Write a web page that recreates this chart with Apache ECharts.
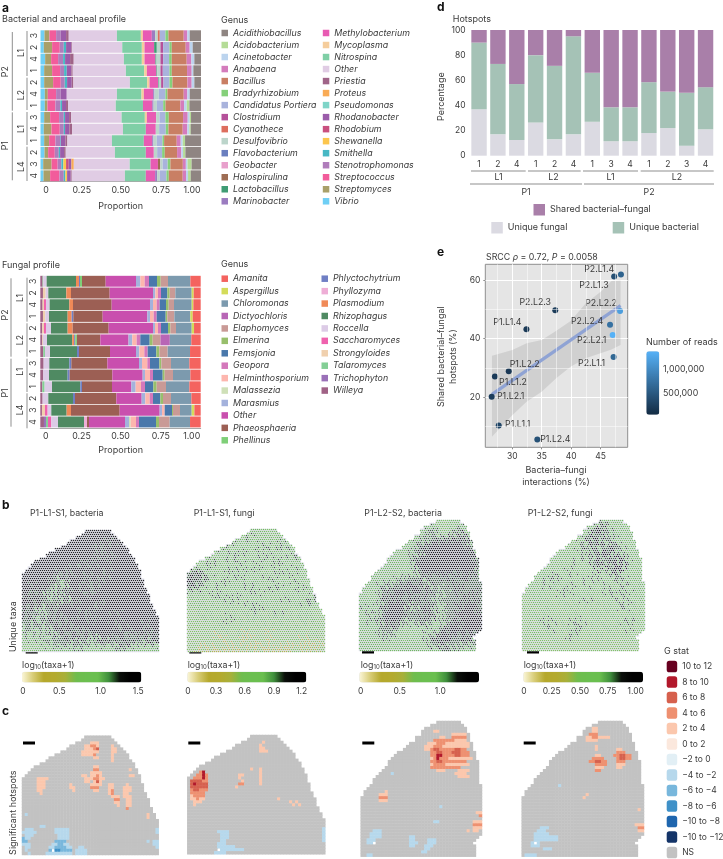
<!DOCTYPE html>
<html lang="en">
<head>
  <meta charset="UTF-8">
  <title>Hotspots</title>
  <style>
    html, body { margin: 0; padding: 0; background: #fff; }
    #chart { width: 723px; height: 859px; }
  </style>
</head>
<body>
  <div id="chart"></div>
  <script src="https://cdn.jsdelivr.net/npm/echarts@6/dist/echarts.min.js"></script>
  <script>
    // Panel a, bacterial profile. Stack runs left to right, legend order is the reverse
    const bacterialGenus = ["Vibrio", "Streptomyces", "Streptococcus", "Stenotrophomonas", "Smithella", "Shewanella", "Rhodobium", "Rhodanobacter", "Pseudomonas", "Proteus", "Priestia", "Other", "Nitrospina", "Mycoplasma", "Methylobacterium", "Marinobacter", "Lactobacillus", "Halospirulina", "Geobacter", "Flavobacterium", "Desulfovibrio", "Cyanothece", "Clostridium", "Candidatus Portiera", "Bradyrhizobium", "Bacillus", "Anabaena", "Acinetobacter", "Acidobacterium", "Acidithiobacillus"];
    const bacterialColors = ["#6fcff5", "#a9a069", "#f25c9b", "#b07dbb", "#47b8c4", "#fcc64d", "#c9507f", "#9b5caa", "#7fd5c8", "#f9ab55", "#a06488", "#e0cce4", "#7fcfa6", "#f5cd9c", "#e85bb3", "#9b7cc0", "#3f9c74", "#9e6d54", "#e8a0cc", "#6a7fbf", "#bcd5cb", "#dd6e5e", "#b5519a", "#a9b3dc", "#85d07a", "#c97f64", "#d47cbc", "#bcd4ee", "#b5dc97", "#8f8582"];
    const sampleTicks = ["3", "2", "4", "1", "2", "4", "1", "3", "4", "1", "2", "3", "4"];
    // parts of each bar, one row per sample, normalised below
    const bacterialParts = [
      [12, 15, 20, 14, 0, 0, 0, 16, 0, 0, 8, 145, 72, 6, 27, 10, 0, 0, 0, 0, 8, 6, 0, 17, 9, 46, 11, 7, 0, 34],
      [10, 25, 23, 12, 7, 0, 0, 16, 0, 0, 2, 151, 59, 8, 29, 0, 8, 0, 0, 0, 11, 0, 8, 19, 7, 42, 12, 9, 0, 25],
      [14, 18, 21, 15, 6, 0, 0, 15, 0, 0, 11, 151, 54, 8, 33, 0, 3, 0, 0, 0, 12, 0, 8, 18, 8, 45, 14, 9, 0, 20],
      [11, 24, 24, 12, 8, 0, 0, 14, 0, 0, 4, 160, 55, 8, 29, 0, 2, 0, 0, 0, 10, 0, 7, 20, 7, 46, 14, 5, 0, 23],
      [11, 27, 23, 12, 7, 0, 0, 14, 0, 0, 5, 170, 52, 7, 26, 0, 2, 0, 0, 0, 7, 0, 7, 18, 9, 45, 13, 8, 0, 20],
      [13, 9, 25, 14, 0, 0, 0, 18, 0, 0, 0, 151, 74, 7, 28, 4, 0, 0, 0, 0, 13, 0, 0, 20, 6, 49, 11, 7, 0, 34],
      [13, 8, 24, 15, 5, 0, 0, 12, 0, 0, 6, 144, 82, 0, 28, 4, 0, 0, 0, 0, 10, 0, 0, 19, 7, 45, 11, 8, 8, 35],
      [11, 18, 27, 14, 4, 0, 0, 12, 0, 0, 6, 152, 70, 6, 28, 0, 0, 0, 0, 0, 10, 0, 0, 18, 10, 43, 14, 6, 4, 30],
      [10, 23, 25, 12, 4, 0, 0, 13, 0, 0, 8, 153, 69, 0, 30, 0, 0, 0, 0, 0, 10, 0, 0, 20, 8, 43, 14, 6, 4, 31],
      [11, 15, 19, 14, 2, 0, 0, 14, 0, 0, 6, 134, 96, 0, 25, 4, 0, 0, 0, 0, 10, 0, 0, 17, 5, 38, 12, 6, 7, 48],
      [12, 11, 20, 12, 4, 0, 0, 12, 0, 0, 5, 148, 93, 0, 24, 0, 0, 0, 0, 0, 10, 0, 0, 15, 8, 37, 13, 5, 7, 47],
      [8, 25, 18, 11, 6, 8, 8, 8, 0, 7, 0, 166, 62, 0, 22, 0, 0, 7, 0, 0, 7, 0, 0, 15, 8, 37, 9, 5, 12, 28],
      [9, 20, 28, 13, 5, 5, 0, 11, 0, 0, 3, 160, 63, 0, 28, 6, 0, 0, 0, 0, 8, 0, 0, 20, 7, 42, 10, 6, 8, 31]
    ];

    // Panel a, fungal profile
    const fungalGenus = ["Willeya", "Trichophyton", "Talaromyces", "Strongyloides", "Saccharomyces", "Roccella", "Rhizophagus", "Plasmodium", "Phyllozyma", "Phlyctochytrium", "Phellinus", "Phaeosphaeria", "Other", "Marasmius", "Malassezia", "Helminthosporium", "Geopora", "Femsjonia", "Elmerina", "Elaphomyces", "Dictyochloris", "Chloromonas", "Aspergillus", "Amanita"];
    const fungalColors = ["#a06286", "#9a70b8", "#84cf96", "#f0d0ae", "#ef62ae", "#dccbe6", "#4f8a62", "#f08a58", "#eeaed6", "#6f7fc4", "#7fcf78", "#9c5f54", "#c94fae", "#a4b2dc", "#cfe0b8", "#fdb6ae", "#d478bb", "#4a78ab", "#98bf6c", "#c99a96", "#b866b6", "#7c9aae", "#d4dc5a", "#f4635f"];
    const fungalParts = [
      [7, 0, 2, 0, 0, 10, 88, 9, 0, 3, 6, 71, 91, 13, 0, 13, 13, 24, 11, 22, 0, 67, 0, 31],
      [8, 0, 0, 8, 0, 8, 54, 14, 0, 0, 0, 116, 130, 7, 0, 8, 9, 19, 7, 17, 0, 49, 6, 21],
      [7, 0, 0, 4, 6, 11, 59, 11, 0, 0, 0, 116, 115, 9, 0, 11, 9, 19, 8, 16, 0, 53, 5, 22],
      [8, 0, 0, 7, 0, 11, 56, 12, 0, 5, 0, 88, 134, 8, 0, 11, 9, 27, 5, 21, 0, 48, 7, 24],
      [6, 0, 0, 5, 6, 15, 50, 15, 0, 0, 0, 108, 133, 6, 0, 9, 9, 21, 7, 17, 0, 47, 7, 20],
      [6, 0, 0, 2, 0, 12, 75, 6, 0, 3, 5, 70, 84, 11, 0, 13, 11, 28, 9, 23, 28, 64, 0, 28],
      [9, 0, 5, 0, 0, 15, 81, 0, 0, 6, 0, 93, 78, 10, 0, 15, 10, 26, 9, 25, 0, 67, 0, 32],
      [10, 0, 0, 0, 0, 17, 60, 0, 0, 6, 0, 108, 95, 9, 0, 16, 8, 28, 6, 29, 0, 55, 0, 34],
      [9, 0, 0, 0, 0, 17, 56, 0, 0, 6, 0, 128, 91, 7, 0, 15, 9, 29, 6, 25, 0, 52, 0, 31],
      [6, 0, 7, 0, 0, 22, 85, 0, 0, 5, 0, 90, 58, 13, 0, 16, 12, 25, 10, 28, 0, 70, 0, 34],
      [7, 0, 0, 0, 0, 17, 74, 0, 0, 6, 0, 124, 76, 11, 0, 13, 10, 22, 8, 24, 0, 61, 0, 28],
      [5, 0, 0, 9, 8, 11, 46, 13, 0, 0, 0, 146, 120, 7, 0, 8, 0, 22, 3, 21, 0, 35, 8, 19],
      [11, 6, 6, 0, 10, 20, 78, 0, 9, 0, 0, 6, 108, 12, 5, 16, 9, 51, 9, 32, 0, 61, 0, 32]
    ];
    const proportionLabels = ["0", "0.25", "0.50", "0.75", "1.00"];
    // where those labels sit: the end ones are pulled in over the bars in the figure
    const proportionLabelAt = [0.034, 0.257, 0.5, 0.751, 0.944];

    // Panel d
    const hotspotSamples = ["1", "2", "4", "1", "2", "4", "1", "3", "4", "1", "2", "3", "4"];
    const uniqueFungal = [37, 17, 12.5, 26.5, 13, 17, 27, 11.5, 11.5, 18, 22, 8, 21];
    const uniqueBacterial = [53, 56, 44.5, 53.5, 58.5, 78, 39, 27, 27, 40.5, 29, 42, 33.5];
    const sharedHotspots = [10, 27, 43, 20, 28.5, 5, 34, 61.5, 61.5, 41.5, 49, 50, 45.5];

    // Panel e
    const hotspotNames = ["P2.L1.4", "P2.L1.3", "P2.L2.2", "P2.L2.3", "P2.L2.4", "P2.L2.1", "P1.L1.4", "P2.L1.1", "P1.L2.2", "P1.L1.2", "P1.L2.1", "P1.L1.1", "P1.L2.4"];
    const interactions = [47.3, 48.45, 48.3, 37.3, 46.6, 47.05, 32.4, 47.2, 29.4, 27.05, 26.5, 27.7, 34.25];
    const sharedPercent = [61.2, 61.9, 49.4, 49.65, 44.75, 41.2, 43.2, 33.7, 28.9, 27.1, 20.2, 10.4, 5.6];
    const readCounts = [400000, 600000, 1200000, 200000, 750000, 1390000, 180000, 650000, 170000, 200000, 220000, 300000, 420000];
    const labelShifts = [[-15, -7], [-27, 11], [-19, -8], [-20, -8], [-23, -3], [-21, 5], [-19, -7], [-22, 6], [16, -7], [18, 6], [19, 0], [19, -1], [18, 0]];
    const fitX = [26.55, 48.39];
    const fitY = [20.98, 51.24];
    const ribbonX = [26.55, 30, 32.43, 35, 37.41, 39.9, 42.45, 45, 46.86, 48.39];
    const ribbonUpper = [34.2, 36.1, 38.4, 39.5, 42.6, 46, 52, 56, 59.7, 59.8];
    const ribbonLower = [6.5, 13.9, 18.5, 21.9, 26.4, 30.4, 33.3, 35, 36.3, 37.8];

    // Panels b and c: tissue outline of the two slides, first and last+1 column per row
    const slide1Left = [21, 20, 18, 16, 15, 13, 11, 9, 8, 6, 4, 3, 2, 1, 0, 0, 0, 0, 0, 0, 0, 0, 0, 0, 0, 0, 0, 0, 0, 0, 0, 0, 0, 0, 0, 0, 0, 0, 0, 0];
    const slide1Right = [30, 31, 32, 33, 34, 35, 36, 36, 37, 38, 38, 39, 39, 40, 40, 40, 41, 41, 41, 42, 42, 43, 43, 43, 44, 44, 45, 45, 46, 46, 46, 46, 46, 46, 46, 46, 46, 46, 46, 46];
    const slide2Left = [25, 23, 21, 20, 20, 18, 18, 16, 15, 14, 12, 11, 10, 9, 9, 8, 7, 6, 5, 4, 4, 3, 2, 1, 1, 0, 0, 0, 0, 0, 0, 0, 0, 0, 0, 0, 0, 0, 0, 0, 0, 0, 0, 0, 0];
    const slide2Right = [33, 34, 35, 35, 36, 36, 36, 37, 37, 37, 38, 38, 38, 39, 39, 39, 39, 39, 39, 39, 39, 40, 40, 40, 40, 40, 40, 40, 40, 40, 40, 40, 40, 40, 40, 40, 40, 40, 39, 38, 37, 38, 38, 38, 38];

    // Panel b: taxa level per block of the section, 0 (none) to 9 (top of the colour bar)
    const taxaL1Bacteria = [
      "888888888888899988888888", "888888888888989998888888", "888888888889899798888888", "888888888899879989888888",
      "888888888898979989988888", "888888889989889789998888", "888888998979798998989888", "888889897989989899999888",
      "888989787989897989999888", "889898678897978999899888", "898887768989879899999888", "887978678979789899998888",
      "878867878897988999899888", "887876769898898989999988", "878877878798979998999988", "787687888989789899989988",
      "877678788979898978999888", "786787879889799889898988", "777678787989889978998788", "676767878797889887989788",
      "767668787978798988778878", "667676778787688787877788", "656667777677677678776767", "555656666766566667665656"
    ];
    const taxaL1Fungi = [
      "565656575656655656565656", "565565656575656565565656", "656556575656565675656565", "565657565656757565656565",
      "656565656756565657565656", "566565675656576565675656", "656575656565656756565656", "565656565756756565765656",
      "787656575656565675656565", "878765656756576565756565", "877656756565656756565565", "786565656575657565675656",
      "656575656565756565656565", "565656757565656575656756", "465646565475656465657565", "546565464565746564656545",
      "454654565646546576456545", "546456475465654645464654", "454546454645464564546464", "445454645454546454654545",
      "454543454634543454545464", "444454345434445454453444", "454344434443434443443434", "443433434344343433443434"
    ];
    const taxaL2Bacteria = [
      "666666666666666555666666", "666666666666667645676666", "666666666666677656778666", "666666666666767787878766",
      "666666666667788888888766", "666666666667888989898876", "666666666676889899998886", "666666666678898999998887",
      "666666666568899999898887", "666666665667888898878886", "666666667677677787778877", "666667677787867778787777",
      "666677878888787677787777", "665678788787877767787787", "666678787787777677778787", "666678888677887677878887",
      "676678898876787667788887", "667678898777878677788898", "667687887677877567878898", "666677876665765677888888",
      "666677766565666788887887", "666667665656577888778877", "666666656566677887777776", "666666566666666677676666"
    ];
    const taxaL2Fungi = [
      "565656565656565765656565", "565656565656567876565656", "565656565656578767656565", "565656565656787857565656",
      "565656565657678678765656", "565656565656786787575656", "565656565656767878676565", "565656565675678677887565",
      "565656565656567878685656", "565656565756565657865656", "565656756565657565765656", "565675656565756565675656",
      "565656565756565675657565", "465656475656565656756565", "546564565465746565475656", "454565456546565465657565",
      "565456545654546565475645", "454645464565456456546565", "546574564757465645656745", "454567546576454565467565",
      "465456454675465456456454", "545645645764546465456545", "454545454545454545454545", "445454445445445454454454"
    ];
    const taxaColors = ["#fbf6d8", "#d8cd78", "#b5a82c", "#b4aa2e", "#a8b03a", "#6fbd4e", "#6bbf50", "#6abf4f", "#3f8f3c", "#0a0f0a", "#000000", "#000000"];

    // Panel c: G stat classes, index is what the hotspot spans below refer to
    const gLabels = ["10 to 12", "8 to 10", "6 to 8", "4 to 6", "2 to 4", "0 to 2", "−2 to 0", "−4 to −2", "−6 to −4", "−8 to −6", "−10 to −8", "−10 to −12", "NS"];
    const gColors = ["#67001f", "#b2182b", "#d6604d", "#ee9070", "#fbc7ad", "#fbe8dd", "#e2eff5", "#b6d8ec", "#78b7dc", "#3f91c8", "#1f66ae", "#143468", "#c2c2c2"];
    const NS = 12;
    // [row, first column, last column + 1, class]; class -1 is a hole in the tissue
    const hotspotsL1S1Bacteria = [
      [2, 23, 26, 4], [3, 21, 26, 4], [3, 23, 25, 3], [4, 21, 26, 4], [4, 24, 25, 3], [4, 25, 26, 2], [5, 20, 26, 4], [6, 20, 24, 4], [6, 24, 25, 3], [7, 24, 26, 4],
      [3, 30, 31, 4], [4, 30, 32, 4], [5, 30, 32, 4], [6, 30, 31, 4], [7, 30, 31, 4], [8, 30, 31, 4],
      [10, 24, 26, 4], [11, 24, 26, 3], [12, 23, 27, 4], [13, 20, 22, 4], [13, 23, 27, 4], [13, 25, 26, 3], [14, 21, 28, 4], [14, 24, 26, 3], [15, 21, 23, 4], [15, 24, 27, 4], [15, 25, 26, 2], [16, 23, 27, 4], [17, 23, 26, 3], [18, 24, 26, 4],
      [16, 29, 31, 4], [17, 29, 31, 4], [18, 29, 31, 4], [18, 30, 31, 3], [19, 29, 31, 4], [19, 30, 31, 3], [20, 30, 33, 4], [21, 31, 33, 3], [22, 31, 33, 4], [23, 32, 33, 4],
      [16, 35, 36, 4], [17, 34, 37, 4], [18, 34, 37, 4], [19, 34, 36, 4], [20, 34, 37, 4], [21, 35, 37, 4], [22, 35, 37, 4], [23, 35, 37, 4], [24, 35, 36, 3],
      [11, 36, 37, 4], [13, 36, 38, 4], [14, 5, 9, 4], [15, 5, 7, 4], [15, 7, 8, 4], [16, 5, 8, 4], [17, 5, 8, 4], [18, 5, 7, 4], [19, 6, 7, 4],
      [16, 16, 17, 4], [17, 16, 18, 4], [18, 17, 18, 4], [26, 42, 43, 4], [27, 42, 43, 4],
      [26, 1, 2, 7], [30, 6, 8, 7], [31, 1, 4, 7], [32, 0, 5, 7], [33, 1, 4, 7], [34, 0, 3, 7], [34, 0, 1, 8], [35, 0, 2, 8], [36, 0, 3, 7], [37, 1, 3, 7], [38, 1, 2, 7], [39, 2, 3, 7],
      [31, 11, 16, 7], [32, 11, 16, 7], [33, 12, 16, 7], [34, 12, 16, 7], [35, 11, 15, 8], [36, 10, 16, 7], [36, 12, 14, 8], [37, 9, 17, 7], [37, 11, 15, 8], [38, 9, 17, 8], [38, 11, 13, 9], [39, 8, 17, 7], [39, 18, 22, 7], [37, 19, 21, 7], [38, 18, 22, 7], [38, 10, 11, -1],
      [35, 44, 46, 7], [36, 44, 46, 7], [37, 45, 46, 7], [31, 45, 46, 7], [32, 45, 46, 7], [35, 42, 43, 7]
    ];
    const hotspotsL1S1Fungi = [
      [12, 4, 6, 3], [12, 5, 6, 1], [13, 3, 7, 3], [13, 5, 6, 1], [14, 2, 7, 3], [14, 5, 6, 1], [15, 1, 7, 2], [15, 5, 7, 3], [16, 1, 7, 2], [16, 2, 3, 1], [17, 1, 7, 2], [18, 1, 7, 3], [18, 2, 4, 2], [19, 1, 6, 3], [20, 1, 6, 3], [20, 1, 2, 4], [21, 1, 6, 4], [21, 3, 4, 3], [22, 2, 5, 4], [23, 2, 3, 4],
      [2, 25, 26, 4], [3, 24, 25, 4], [4, 24, 26, 4], [5, 24, 27, 4], [11, 21, 22, 4], [13, 17, 19, 4], [14, 17, 18, 4], [15, 18, 19, 4], [16, 17, 19, 3], [17, 16, 17, 4],
      [11, 24, 25, 4], [12, 24, 25, 4], [13, 24, 25, 4], [14, 24, 25, 4], [15, 24, 25, 4], [16, 24, 25, 4], [21, 30, 31, 4], [22, 34, 35, 4], [23, 35, 36, 4], [22, 36, 37, 4], [23, 37, 38, 4],
      [32, 10, 14, 7], [33, 11, 14, 7], [34, 11, 14, 7], [35, 11, 13, 7], [36, 10, 13, 7], [37, 10, 16, 7], [38, 10, 19, 7], [39, 9, 13, 7], [38, 10, 11, -1],
      [31, 45, 46, 7], [32, 45, 46, 7], [33, 45, 46, 7], [34, 45, 46, 7], [35, 45, 46, 7]
    ];
    const hotspotsL2S2Bacteria = [
      [3, 24, 26, 4], [4, 30, 35, 4], [5, 26, 28, 4], [5, 30, 35, 3], [6, 24, 31, 3], [6, 31, 35, 4], [7, 22, 36, 4], [7, 25, 28, 3], [8, 21, 36, 4], [8, 24, 27, 3],
      [9, 21, 23, 4], [9, 23, 35, 3], [9, 24, 26, 2], [9, 31, 33, 2], [10, 23, 36, 3], [10, 25, 27, 2], [10, 30, 33, 2], [11, 23, 36, 3], [11, 25, 27, 1], [11, 31, 33, 2], [12, 23, 37, 4], [12, 24, 29, 3], [12, 25, 26, 1],
      [13, 23, 35, 3], [13, 25, 27, 2], [14, 23, 36, 4], [14, 24, 28, 3], [15, 23, 33, 3], [16, 25, 28, 4], [16, 32, 36, 4], [17, 31, 35, 4], [18, 32, 36, 4],
      [23, 8, 9, 4], [24, 6, 9, 4], [25, 6, 9, 3], [26, 6, 9, 4],
      [30, 38, 40, 4], [31, 39, 40, 3], [33, 37, 40, 4], [34, 37, 40, 3], [35, 37, 40, 4], [36, 35, 36, 4], [36, 37, 39, 4],
      [17, 10, 11, 7], [28, 26, 27, 7], [33, 24, 26, 7], [36, 4, 7, 7], [37, 3, 7, 7], [38, 3, 7, 7], [39, 2, 5, 7], [40, 2, 5, 7], [40, 4, 5, -1], [44, 2, 4, 7],
      [38, 16, 18, 7], [39, 16, 18, 7], [40, 16, 19, 7], [41, 16, 18, 7], [39, 22, 25, 7], [40, 22, 25, 7], [41, 21, 24, 7], [42, 21, 23, 7], [43, 20, 22, 7]
    ];
    const hotspotsL2S2Fungi = [
      [2, 23, 25, 4], [3, 23, 25, 4], [4, 22, 25, 3], [5, 21, 29, 4], [5, 23, 25, 3], [6, 21, 25, 4],
      [8, 24, 25, 4], [9, 24, 25, 4], [11, 24, 26, 4], [12, 23, 27, 3], [13, 22, 28, 3], [13, 24, 26, 2], [14, 24, 28, 3], [15, 24, 27, 4], [16, 24, 26, 3],
      [9, 31, 33, 4], [10, 31, 34, 3], [11, 30, 36, 3], [11, 32, 34, 2], [12, 31, 36, 3], [12, 32, 34, 2], [13, 31, 34, 3], [14, 31, 34, 4], [15, 31, 33, 4],
      [24, 21, 22, 4], [25, 20, 21, 4], [29, 38, 39, 4], [34, 37, 40, 4], [35, 38, 40, 3], [36, 38, 40, 4],
      [21, 12, 13, 7], [35, 6, 9, 7], [36, 5, 8, 7], [37, 4, 9, 7], [38, 4, 12, 7], [39, 4, 12, 7], [40, 3, 6, 7], [40, 4, 5, -1], [41, 3, 6, 7], [42, 7, 10, 7], [44, 1, 5, 7]
    ];

    const font = "Inter, 'Noto Sans', sans-serif";
    const ink = "#3a3a3a";
    const lineGrey = "#8f8f8f";

    const grids = [], xAxes = [], yAxes = [], series = [], visualMaps = [], legends = [], gfx = [];

    const text = (x, y, str, opts = {}) => gfx.push({
      type: "text", x, y, rotation: opts.rot || 0, silent: true,
      style: {
        text: str, fill: opts.fill || ink, fontFamily: font, fontSize: opts.size || 8.8,
        fontWeight: opts.weight || "normal", align: opts.align || "left", verticalAlign: "middle",
        rich: opts.rich
      }
    });
    const rule = (x1, y1, x2, y2, stroke = lineGrey, width = 1) => gfx.push({
      type: "line", silent: true, shape: { x1, y1, x2, y2 }, style: { stroke, lineWidth: width }
    });
    const blackBar = (x, y, w) => gfx.push({
      type: "rect", silent: true, shape: { x, y: y - 1.5, width: w, height: 3 }, style: { fill: "#000" }
    });

    // Stacked proportion bars
    const addProfile = (box, genus, colors, parts, stack, legendTop, legendPitch, splitAt, secondLeft) => {
      const g = grids.length;
      grids.push(box);
      xAxes.push({
        gridIndex: g, type: "value", min: 0, max: 1,
        splitLine: { show: false },
        axisLine: { show: true, onZero: false, lineStyle: { color: "#a8a8a8", width: 1 } },
        axisTick: { show: false },
        axisLabel: {
          customValues: proportionLabelAt,
          formatter: v => proportionLabels[proportionLabelAt.indexOf(+v)],
          color: ink, fontFamily: font, fontSize: 8.8, margin: 4
        }
      });
      yAxes.push({
        gridIndex: g, type: "category", inverse: true, data: sampleTicks,
        axisLine: { show: false }, axisTick: { show: false },
        axisLabel: { interval: 0, rotate: 90, color: ink, fontFamily: font, fontSize: 8.5, margin: 2 }
      });
      genus.forEach((name, col) => {
        series.push({
          type: "bar", name, stack, xAxisIndex: g, yAxisIndex: g, barWidth: "93%",
          itemStyle: { color: colors[col] },
          data: parts.map(row => row[col] / row.reduce((a, b) => a + b, 0))
        });
      });
      const legendOrder = genus.map((name, i) => ({ name, itemStyle: { color: colors[i] } })).reverse();
      [[legendOrder.slice(0, splitAt), 221.5], [legendOrder.slice(splitAt), secondLeft]].forEach(([data, left]) => {
        legends.push({
          orient: "vertical", left, top: legendTop, padding: 0, icon: "rect", selectedMode: false,
          itemWidth: 6.5, itemHeight: 6.5, itemGap: legendPitch - 10, data,
          textStyle: { color: ink, fontFamily: font, fontSize: 8.8, fontStyle: "italic", lineHeight: 10 }
        });
      });
    };

    addProfile({ left: 40.5, top: 29.9, width: 160.5, height: 151.7 }, bacterialGenus, bacterialColors, bacterialParts, "bac", 28, 12.02, 15, 322.8);
    addProfile({ left: 40.3, top: 275.4, width: 160.4, height: 152.4 }, fungalGenus, fungalColors, fungalParts, "fun", 273.7, 12.43, 14, 321.5);

    // Panel d
    const dGrid = grids.length;
    grids.push({ left: 469.6, top: 30, width: 245.4, height: 125.7 });
    xAxes.push({
      gridIndex: dGrid, type: "category", data: hotspotSamples,
      axisLine: { show: false }, axisTick: { show: false },
      axisLabel: { interval: 0, color: ink, fontFamily: font, fontSize: 8.5, margin: 4 }
    });
    yAxes.push({
      gridIndex: dGrid, type: "value", min: 0, max: 100, interval: 20,
      axisLine: { show: false }, axisTick: { show: false }, splitLine: { show: false },
      axisLabel: { color: ink, fontFamily: font, fontSize: 8.5, margin: 4 }
    });
    [["Unique fungal", uniqueFungal, "#dbdae2"], ["Unique bacterial", uniqueBacterial, "#a5c2b6"], ["Shared bacterial–fungal", sharedHotspots, "#a97fa9"]].forEach(([name, data, color]) => {
      series.push({ type: "bar", name, data, stack: "hot", xAxisIndex: dGrid, yAxisIndex: dGrid, barWidth: 15.4, itemStyle: { color } });
    });
    legends.push({
      left: 533.5, top: 204, padding: 0, icon: "rect", selectedMode: false, itemWidth: 11.5, itemHeight: 11.5,
      data: [{ name: "Shared bacterial–fungal", itemStyle: { color: "#a97fa9" } }],
      textStyle: { color: ink, fontFamily: font, fontSize: 9 }
    });
    legends.push({
      left: 491.3, top: 222, padding: 0, icon: "rect", selectedMode: false, itemWidth: 11.5, itemHeight: 11.5,
      data: [{ name: "Unique fungal", itemStyle: { color: "#dbdae2" } }],
      textStyle: { color: ink, fontFamily: font, fontSize: 9 }
    });
    legends.push({
      left: 612.7, top: 222, padding: 0, icon: "rect", selectedMode: false, itemWidth: 11.5, itemHeight: 11.5,
      data: [{ name: "Unique bacterial", itemStyle: { color: "#a5c2b6" } }],
      textStyle: { color: ink, fontFamily: font, fontSize: 9 }
    });

    // Panel e
    const eGrid = grids.length;
    grids.push({ left: 485.3, top: 264.3, width: 142.4, height: 183, show: true, backgroundColor: "#e5e5e5", borderColor: lineGrey, borderWidth: 1 });
    xAxes.push({
      gridIndex: eGrid, type: "value", min: 25.42, max: 49.6,
      axisLine: { show: false },
      axisTick: { show: true, length: 2, customValues: [30, 35, 40, 45], lineStyle: { color: lineGrey } },
      axisLabel: { customValues: [30, 35, 40, 45], color: ink, fontFamily: font, fontSize: 8.5, margin: 5 },
      splitLine: { show: true, lineStyle: { color: "#fff", width: 1 } }
    });
    yAxes.push({
      gridIndex: eGrid, type: "value", min: 2.93, max: 65.36,
      axisLine: { show: false },
      axisTick: { show: true, length: 2, customValues: [20, 40, 60], lineStyle: { color: lineGrey } },
      axisLabel: { customValues: [20, 40, 60], color: ink, fontFamily: font, fontSize: 8.5, margin: 5 },
      splitLine: { show: true, lineStyle: { color: "#fff", width: 1 } }
    });
    const fitData = fitX.map((x, i) => [x, fitY[i]]);
    series.push({
      type: "line", data: fitData, xAxisIndex: eGrid, yAxisIndex: eGrid, z: 1, showSymbol: false, silent: true,
      lineStyle: { opacity: 0 },
      markLine: {
        silent: true, symbol: "none", label: { show: false }, lineStyle: { color: "#fff", width: 0.5, type: "solid" },
        data: [27.5, 32.5, 37.5, 42.5, 47.5].map(xAxis => ({ xAxis })).concat([10, 30, 50].map(yAxis => ({ yAxis })))
      }
    });
    series.push({
      type: "custom", xAxisIndex: eGrid, yAxisIndex: eGrid, z: 2, silent: true, data: [[0, 0]],
      renderItem: (params, api) => {
        const top = ribbonX.map((x, i) => api.coord([x, ribbonUpper[i]]));
        const low = ribbonX.map((x, i) => api.coord([x, ribbonLower[i]])).reverse();
        return { type: "polygon", shape: { points: top.concat(low) }, style: { fill: "rgba(0,0,0,0.09)" } };
      }
    });
    series.push({
      type: "line", data: fitData, xAxisIndex: eGrid, yAxisIndex: eGrid, z: 3, showSymbol: false, silent: true,
      lineStyle: { color: "#8fa3d4", width: 3.2 }
    });
    visualMaps.push({
      type: "continuous", seriesIndex: series.length, dimension: 2, min: 34000, max: 1395000,
      left: 646.3, top: 351.3, itemWidth: 13, itemHeight: 63.4, calculable: false, showLabel: false,
      text: null, padding: 0, inRange: { color: ["#132b43", "#56b1f7"] }
    });
    series.push({
      type: "scatter", xAxisIndex: eGrid, yAxisIndex: eGrid, z: 4, symbolSize: 6,
      itemStyle: { opacity: 1 },
      data: hotspotNames.map((name, i) => ({
        name, value: [interactions[i], sharedPercent[i], readCounts[i]],
        label: { offset: labelShifts[i] }
      })),
      label: { show: true, position: "inside", formatter: "{b}", color: ink, fontFamily: font, fontSize: 8.8 }
    });

    // Panel b: one hex lattice of spots per section, coloured from the read levels.
    // Spots can't be read one by one, so each takes its level from its block or a neighbour in the read grid
    const addSpots = (box, left, right, levels, maxValue, barBox) => {
      const g = grids.length, cols = Math.max(...right), rows = left.length;
      grids.push(box);
      xAxes.push({ gridIndex: g, type: "value", min: 0, max: cols, show: false });
      yAxes.push({ gridIndex: g, type: "value", min: 0, max: rows, inverse: true, show: false });
      const tissue = [], spots = [];
      const inside = (x, y) => { const r = Math.floor(y); return r < rows && x >= left[r] && x < right[r]; };
      for (let r = 0; r < rows; r++) {
        for (let c = left[r]; c < right[r]; c++) tissue.push([c + 0.5, r + 0.5]);
      }
      // lattice pitch of 2 px, kept on the pixel grid so the rows don't beat against it
      const unitX = cols / box.width, unitY = rows / box.height;
      const nRow = levels.length, nCol = levels[0].length;
      for (let j = 0; j * 2 < box.height; j++) {
        for (let i = 0; i * 2 < box.width; i++) {
          const x = (i * 2 + (j % 2) + 0.5) * unitX, y = (j * 2 + 0.5) * unitY;
          if (!inside(x, y)) continue;
          const cb = Math.floor(x / cols * nCol + ((i * 2 + j * 3) % 5 - 2) * 0.45);
          const rb = Math.floor(y / rows * nRow + ((i * 3 + j) % 4 - 1.5) * 0.45);
          const level = +levels[Math.min(nRow - 1, Math.max(0, rb))][Math.min(nCol - 1, Math.max(0, cb))];
          spots.push([x, y, level / 9 * maxValue]);
        }
      }
      series.push({
        type: "scatter", xAxisIndex: g, yAxisIndex: g, silent: true, symbol: "rect", symbolSize: [box.width / cols + 0.5, box.height / rows + 0.5],
        data: tissue, itemStyle: { color: "#e3e3ec", opacity: 1 }, z: 1, progressive: 0
      });
      visualMaps.push({
        type: "continuous", seriesIndex: series.length, dimension: 2, min: 0, max: maxValue, orient: "horizontal",
        left: barBox[0], top: barBox[1], itemWidth: 10.7, itemHeight: barBox[2], calculable: false, showLabel: false,
        text: null, padding: 0, inRange: { color: taxaColors }
      });
      series.push({
        type: "scatter", xAxisIndex: g, yAxisIndex: g, silent: true, symbolSize: 1.35, data: spots, z: 2, itemStyle: { opacity: 0.85 }, progressive: 0
      });
    };
    addSpots({ left: 22, top: 530, width: 137, height: 122 }, slide1Left, slide1Right, taxaL1Bacteria, 1.55, [22, 671.7, 119.3]);
    addSpots({ left: 187, top: 529, width: 138, height: 123 }, slide1Left, slide1Right, taxaL1Fungi, 1.27, [187.3, 671.7, 119]);
    addSpots({ left: 359, top: 520, width: 123, height: 131 }, slide2Left, slide2Right, taxaL2Bacteria, 1.48, [359.3, 671.7, 119.7]);
    addSpots({ left: 522, top: 520, width: 123, height: 131 }, slide2Left, slide2Right, taxaL2Fungi, 1.05, [523.3, 671.7, 119.7]);

    // Panel c: heatmap cells, everything inside the outline is NS unless a span says otherwise
    const heatIndices = [];
    const addCells = (box, left, right, spans) => {
      const g = grids.length, cols = Math.max(...right), rows = left.length;
      grids.push(box);
      xAxes.push({ gridIndex: g, type: "category", data: Array.from({ length: cols }, (_, i) => i), show: false });
      yAxes.push({ gridIndex: g, type: "category", inverse: true, data: Array.from({ length: rows }, (_, i) => i), show: false });
      const cell = {};
      left.forEach((first, r) => { for (let c = first; c < right[r]; c++) cell[r + "," + c] = NS; });
      spans.forEach(([r, from, to, cls]) => {
        for (let c = from; c < to; c++) {
          if (!(r + "," + c in cell)) continue;
          cell[r + "," + c] = cls;
        }
      });
      const data = [];
      Object.keys(cell).forEach(key => {
        if (cell[key] < 0) return;
        const [r, c] = key.split(",").map(Number);
        data.push([c, r, cell[key]]);
      });
      heatIndices.push(series.length);
      series.push({
        type: "heatmap", xAxisIndex: g, yAxisIndex: g, silent: true, data, progressive: 0,
        itemStyle: { borderColor: "rgba(255,255,255,0.1)", borderWidth: 0.3 }
      });
    };
    addCells({ left: 22, top: 735.7, width: 136.7, height: 119.3 }, slide1Left, slide1Right, hotspotsL1S1Bacteria);
    addCells({ left: 187.3, top: 735, width: 138, height: 119.3 }, slide1Left, slide1Right, hotspotsL1S1Fungi);
    addCells({ left: 360.7, top: 721, width: 121.3, height: 135.7 }, slide2Left, slide2Right, hotspotsL2S2Bacteria);
    addCells({ left: 521.7, top: 721, width: 122.3, height: 135.7 }, slide2Left, slide2Right, hotspotsL2S2Fungi);
    visualMaps.push({
      type: "piecewise", seriesIndex: heatIndices, dimension: 2, inverse: true, orient: "vertical",
      left: 666.7, top: 660.8, padding: 0, itemWidth: 10.5, itemHeight: 11.5, itemGap: 4, textGap: 5, selectedMode: false, hoverLink: false, align: "left",
      textStyle: { color: ink, fontFamily: font, fontSize: 8.5 },
      pieces: gLabels.map((label, i) => ({ value: i, label, color: gColors[i] }))
    });

    // Free text and group rules
    [["a", 2, 8], ["d", 437, 7], ["e", 437, 252], ["b", 2, 505], ["c", 2, 711]].forEach(([t, x, y]) => text(x, y, t, { weight: "bold", size: 12, fill: "#111", }));
    text(2, 19, "Bacterial and archaeal profile", { size: 9 });
    text(2, 265, "Fungal profile", { size: 9 });
    text(221, 20, "Genus", { size: 9 });
    text(221, 264, "Genus", { size: 9 });
    text(120.7, 206, "Proportion", { align: "center", size: 9 });
    text(120.7, 450, "Proportion", { align: "center", size: 9 });

    const vertical = (x, y, str, size) => text(x, y, str, { rot: Math.PI / 2, align: "center", size });
    [[31, 76], [77.7, 110], [112, 145], [146.7, 181]].forEach(([a, b]) => rule(27, a, 27, b));
    [[32, 110.7], [112.3, 180.3]].forEach(([a, b]) => rule(12.3, a, 12.3, b));
    [["L1", 53], ["L2", 95], ["L1", 129], ["L4", 166.7]].forEach(([t, y]) => vertical(21, y, t));
    [["P2", 71.7], ["P1", 145.7]].forEach(([t, y]) => vertical(5.7, y, t));
    [[277.7, 321.7], [323.3, 356.7], [358.7, 392], [393.3, 428.3]].forEach(([a, b]) => rule(27, a, 27, b));
    [[278.3, 356.7], [358.7, 426.7]].forEach(([a, b]) => rule(11, a, 11, b));
    [["L1", 298], ["L2", 340], ["L1", 371.7], ["L4", 410]].forEach(([t, y]) => vertical(20, y, t));
    [["P2", 315], ["P1", 393]].forEach(([t, y]) => vertical(5, y, t));

    text(452.7, 19, "Hotspots", { size: 9 });
    vertical(441.7, 96.7, "Percentage", 9);
    [[471, 525.7], [528, 580.7], [583, 638], [640.7, 713.7]].forEach(([a, b]) => rule(a, 171, b, 171));
    [[470, 582], [584, 714]].forEach(([a, b]) => rule(a, 184, b, 184));
    [["L1", 498.5], ["L2", 553.5], ["L1", 610.5], ["L2", 677]].forEach(([t, x]) => text(x, 177.7, t, { align: "center" }));
    [["P1", 526], ["P2", 649]].forEach(([t, x]) => text(x, 192, t, { align: "center" }));

    text(486, 257.7, "SRCC {i|ρ} = 0.72, {i|P} = 0.0058", { rich: { i: { fontStyle: "italic", fontFamily: font, fontSize: 8.8, fill: ink } } });
    vertical(441.7, 356.7, "Shared bacterial–fungal", 9);
    vertical(453.3, 356.7, "hotspots (%)", 9);
    text(556, 470, "Bacteria–fungi", { align: "center", size: 9 });
    text(556, 482, "interactions (%)", { align: "center", size: 9 });
    text(646, 342, "Number of reads", { size: 9 });
    text(663, 369.7, "1,000,000");
    text(663, 393, "500,000");
    rule(646.3, 369.7, 649, 369.7, "#fff", 0.6); rule(656.6, 369.7, 659.3, 369.7, "#fff", 0.6);
    rule(646.3, 393, 649, 393, "#fff", 0.6); rule(656.6, 393, 659.3, 393, "#fff", 0.6);

    [["P1-L1-S1, bacteria", 30], ["P1-L1-S1, fungi", 193.7], ["P1-L2-S2, bacteria", 364.3], ["P1-L2-S2, fungi", 527.7]].forEach(([t, x]) => text(x, 513.3, t));
    const logRich = { s: { fontFamily: font, fontSize: 6, fill: ink, verticalAlign: "bottom", padding: [5, 0, 0, 0] } };
    [22, 187.7, 360.7, 523.7].forEach(x => text(x, 665, "log{s|10}(taxa+1)", { rich: logRich }));
    vertical(13, 626.7, "Unique taxa", 9);
    vertical(13, 812.7, "Significant hotspots", 9);
    [[25.7, 652], [189.3, 652], [362, 652], [527, 652], [23, 743], [188.3, 743], [362.3, 743], [523.7, 743]].forEach(([x, y]) => blackBar(x, y, 12));

    [
      [["0", 23], ["0.5", 59.3], ["1.0", 100.7], ["1.5", 138.3]],
      [["0", 188], ["0.3", 216], ["0.6", 244.7], ["0.9", 274], ["1.2", 301.7]],
      [["0", 360.7], ["0.5", 399.7], ["1.0", 440.3]],
      [["0", 524], ["0.25", 551.7], ["0.50", 580], ["0.75", 607.7], ["1.00", 635.7]]
    ].forEach(ticks => ticks.forEach(([t, x]) => {
      text(x, 691.7, t, { align: "center", size: 8.5 });
      if (t !== "0") rule(x, 671.7, x, 682.4, "rgba(255,255,255,0.7)", 0.6);
    }));
    text(664, 651, "G stat", { size: 9 });

    const chart = echarts.init(document.getElementById("chart"), null, { renderer: "canvas" });
    chart.setOption({
      animation: false,
      textStyle: { fontFamily: font },
      grid: grids,
      xAxis: xAxes,
      yAxis: yAxes,
      legend: legends,
      visualMap: visualMaps,
      series,
      graphic: { elements: gfx }
    });
  </script>
</body>
</html>
